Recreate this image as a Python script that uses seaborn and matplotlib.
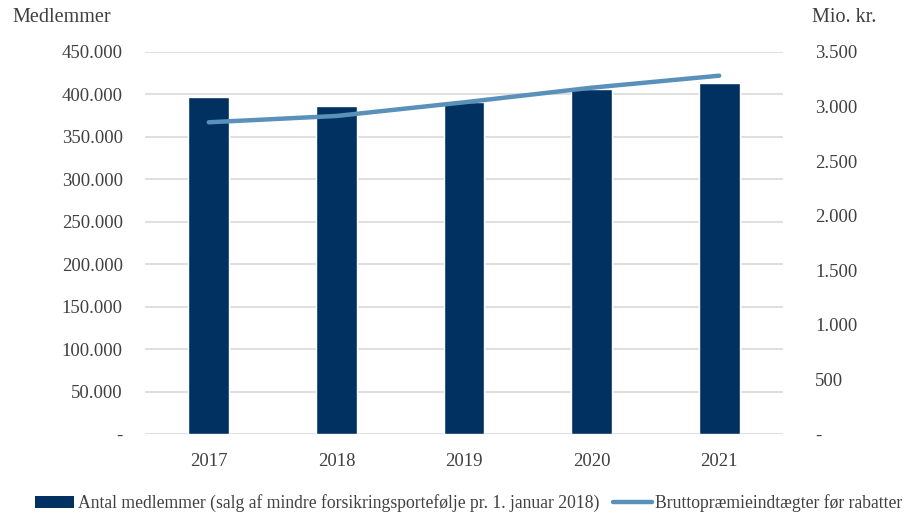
import matplotlib
matplotlib.use("Agg")
import matplotlib.pyplot as plt
import seaborn as sns
import numpy as np
import pandas as pd
from matplotlib.ticker import FixedLocator, FuncFormatter

years = ["2017", "2018", "2019", "2020", "2021"]
members = [396700, 386400, 391500, 406100, 413200]
premium = [2856, 2914, 3039, 3173, 3283]
bar_label = "Antal medlemmer (salg af mindre forsikringsportefølje pr. 1. januar 2018)"
line_label = "Bruttopræmieindtægter før rabatter"

sns.set_theme(style="white")
plt.rcParams['font.family'] = ['Liberation Serif', 'DejaVu Serif']
TXT = "#404040"

df = pd.DataFrame({"year": years, "members": members, "premium": premium})
df["pos"] = np.arange(len(years))

fig = plt.figure(figsize=(9.11, 5.15), dpi=100)
ax = fig.add_axes([145/911, 1-434/515, (783-145)/911, (434-52)/515])

bar_color = "#003161"
line_color = "#5a91bb"

sns.barplot(data=df, x="year", y="members", color=bar_color, width=0.32,
            saturation=1, ax=ax, zorder=2)
ax.set_ylim(0, 450000)
ax.set_xlim(-0.5, len(years)-0.5)
ax.yaxis.set_major_locator(FixedLocator(np.arange(0, 450001, 50000)))
fmt = lambda v, p: "-" if v == 0 else f"{int(v):,}".replace(",", ".")
ax.yaxis.set_major_formatter(FuncFormatter(fmt))
ax.grid(axis="y", color="#d9d9d9", linewidth=1.2, zorder=0)
ax.set_axisbelow(True)
for s in ax.spines.values():
    s.set_visible(False)
ax.tick_params(axis="y", length=0, pad=16, labelsize=13.5, labelcolor=TXT)
ax.tick_params(axis="x", length=0, pad=14, labelsize=13.5, labelcolor=TXT)
ax.set_xlabel("")
ax.set_ylabel("")

ax2 = ax.twinx()
sns.lineplot(data=df, x="pos", y="premium", color=line_color, linewidth=3.2,
             ax=ax2, zorder=3)
ax2.set_ylim(0, 3500)
ax2.set_xlim(-0.5, len(years)-0.5)
ax2.yaxis.set_major_locator(FixedLocator(np.arange(0, 3501, 500)))
ax2.yaxis.set_major_formatter(FuncFormatter(fmt))
for s in ax2.spines.values():
    s.set_visible(False)
ax2.tick_params(axis="y", length=0, pad=23, labelsize=13.5, labelcolor=TXT)
ax2.tick_params(axis="x", length=0, bottom=False, labelbottom=False, top=False, labeltop=False)
ax2.set_ylabel("")
ax2.set_xlabel("")
ax2.grid(False)

fig.text(12/911, 1-18/515, "Medlemmer", fontsize=14.5, color=TXT, va="center", ha="left")
fig.text(812/911, 1-18/515, "Mio. kr.", fontsize=14.5, color=TXT, va="center", ha="left")

from matplotlib.patches import Patch
from matplotlib.lines import Line2D
handles = [Patch(facecolor=bar_color, edgecolor="none"),
           Line2D([0], [0], color=line_color, linewidth=3.2)]
fig.legend(handles, [bar_label, line_label], loc="center", bbox_to_anchor=(469/911, 1-503/515),
           ncol=2, frameon=False, fontsize=12.7, handlelength=2.2, handletextpad=0.2,
           columnspacing=0.8, labelcolor=TXT)

fig.savefig("out.png", dpi=100)
